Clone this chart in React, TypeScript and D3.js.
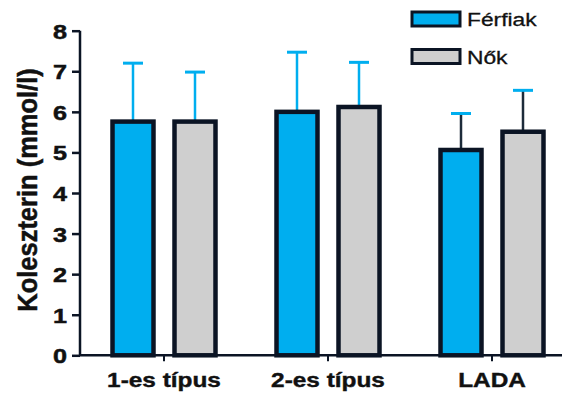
import { useEffect, useRef } from "react"
import * as d3 from "d3"

const categories = ["1-es típus", "2-es típus", "LADA"]
const seriesNames = ["Férfiak", "Nők"]
const ferfiakMean = [5.76, 6.0, 5.06]
const ferfiakSd = [1.44, 1.47, 0.9]
const nokMean = [5.76, 6.12, 5.51]
const nokSd = [1.22, 1.1, 1.02]
const yTicks = [0, 1, 2, 3, 4, 5, 6, 7, 8]

const colors = ["#00aeef", "#cfcfcf"]
const dark = "#0b1424"
const font = "Liberation Sans, Arial, sans-serif"

const App = () => {
    const ref = useRef<SVGSVGElement>(null)

    useEffect(() => {
        const svg = d3.select(ref.current)
        svg.selectAll("*").remove()

        const x = d3.scaleBand().domain(categories).range([82, 574]).paddingInner(0).paddingOuter(0)
        const y = d3.scaleLinear().domain([0, 8]).range([355.3, 30.7])

        const rows = categories.map((c, i) => ({
            cat: c,
            vals: [
                { s: seriesNames[0], m: ferfiakMean[i], sd: ferfiakSd[i] },
                { s: seriesNames[1], m: nokMean[i], sd: nokSd[i] },
            ],
        }))

        const barW = 41
        const gap = 21
        const center = (c: string) => (x(c) as number) + x.bandwidth() / 2
        const barX = (c: string, j: number) => center(c) - gap / 2 - barW + j * (barW + gap)

        // y axis
        const yAxis = svg.append("g")
            .attr("transform", "translate(80,0)")
            .call(d3.axisLeft(y).tickValues(yTicks).tickSize(8).tickPadding(4).tickFormat(d3.format("d")))
        yAxis.select(".domain").attr("stroke", dark).attr("stroke-width", 2.5).attr("d", `M0,${y(8)}V${y(0)}`)
        yAxis.selectAll(".tick line").attr("stroke", dark).attr("stroke-width", 2.5)
        yAxis.selectAll(".tick text")
            .attr("x", 0)
            .attr("transform", "translate(-13,0) scale(1.2,1)")
            .attr("fill", "#111")
            .attr("stroke", "#111")
            .attr("stroke-width", 0.5)
            .style("font-family", font)
            .style("font-weight", "bold")
            .style("font-size", "21px")
            .attr("dy", "0.36em")

        // error bars (drawn before bars)
        const eg = svg.append("g")
        rows.forEach((r, ci) => {
            r.vals.forEach((v, j) => {
                const cx = barX(r.cat, j) + barW / 2
                const stemColor = ci === 2 ? "#1d2b3a" : colors[0]
                eg.append("line")
                    .attr("x1", cx).attr("x2", cx)
                    .attr("y1", y(v.m)).attr("y2", y(v.m + v.sd))
                    .attr("stroke", stemColor).attr("stroke-width", 2.5)
                eg.append("line")
                    .attr("x1", cx - 10).attr("x2", cx + 10)
                    .attr("y1", y(v.m + v.sd)).attr("y2", y(v.m + v.sd))
                    .attr("stroke", colors[0]).attr("stroke-width", 3)
            })
        })

        // bars
        const bg = svg.append("g")
        rows.forEach(r => {
            r.vals.forEach((v, j) => {
                bg.append("rect")
                    .attr("x", barX(r.cat, j))
                    .attr("y", y(v.m))
                    .attr("width", barW)
                    .attr("height", y(0) - y(v.m))
                    .attr("fill", colors[j])
                    .attr("stroke", dark)
                    .attr("stroke-width", 4.5)
            })
        })

        // x axis
        const xAxis = svg.append("g")
            .attr("transform", `translate(0,${y(0)})`)
            .call(d3.axisBottom(x).tickSize(6).tickPadding(12))
        xAxis.select(".domain").attr("stroke", dark).attr("stroke-width", 2.5).attr("d", `M80,0H562`)
        xAxis.selectAll(".tick line").attr("stroke", dark).attr("stroke-width", 2)
        xAxis.selectAll(".tick text")
            .attr("y", 0)
            .attr("dy", 0)
            .attr("transform", "translate(0,32) scale(1.22,1)")
            .attr("fill", "#111")
            .attr("stroke", "#111")
            .attr("stroke-width", 0.4)
            .style("font-family", font)
            .style("font-weight", "bold")
            .style("font-size", "20px")

        // y label
        svg.append("text")
            .attr("transform", `translate(37,${190}) rotate(-90) scale(1,1.05)`)
            .attr("text-anchor", "middle")
            .attr("fill", "#111")
            .attr("stroke", "#111")
            .attr("stroke-width", 0.5)
            .style("font-family", font)
            .style("font-weight", "bold")
            .style("font-size", "25.5px")
            .text("Koleszterin (mmol/l)")

        // legend
        const lg = svg.append("g")
        seriesNames.forEach((s, j) => {
            const ly = 12 + j * 37.5
            lg.append("rect")
                .attr("x", 412).attr("y", ly)
                .attr("width", 48).attr("height", 14)
                .attr("fill", colors[j])
                .attr("stroke", dark).attr("stroke-width", 3)
            lg.append("text")
                .attr("transform", `translate(467,${ly + 14}) scale(1.2,1)`)
                .attr("fill", "#111")
                .attr("stroke", "#111")
                .attr("stroke-width", 0.3)
                .style("font-family", font)
                .style("font-size", "19px")
                .text(s)
        })
    }, [])

    return (
        <svg ref={ref} width={562} height={397}
            style={{ position: "absolute", left: 0, top: 0, background: "#fff" }} />
    )
}
export default App
